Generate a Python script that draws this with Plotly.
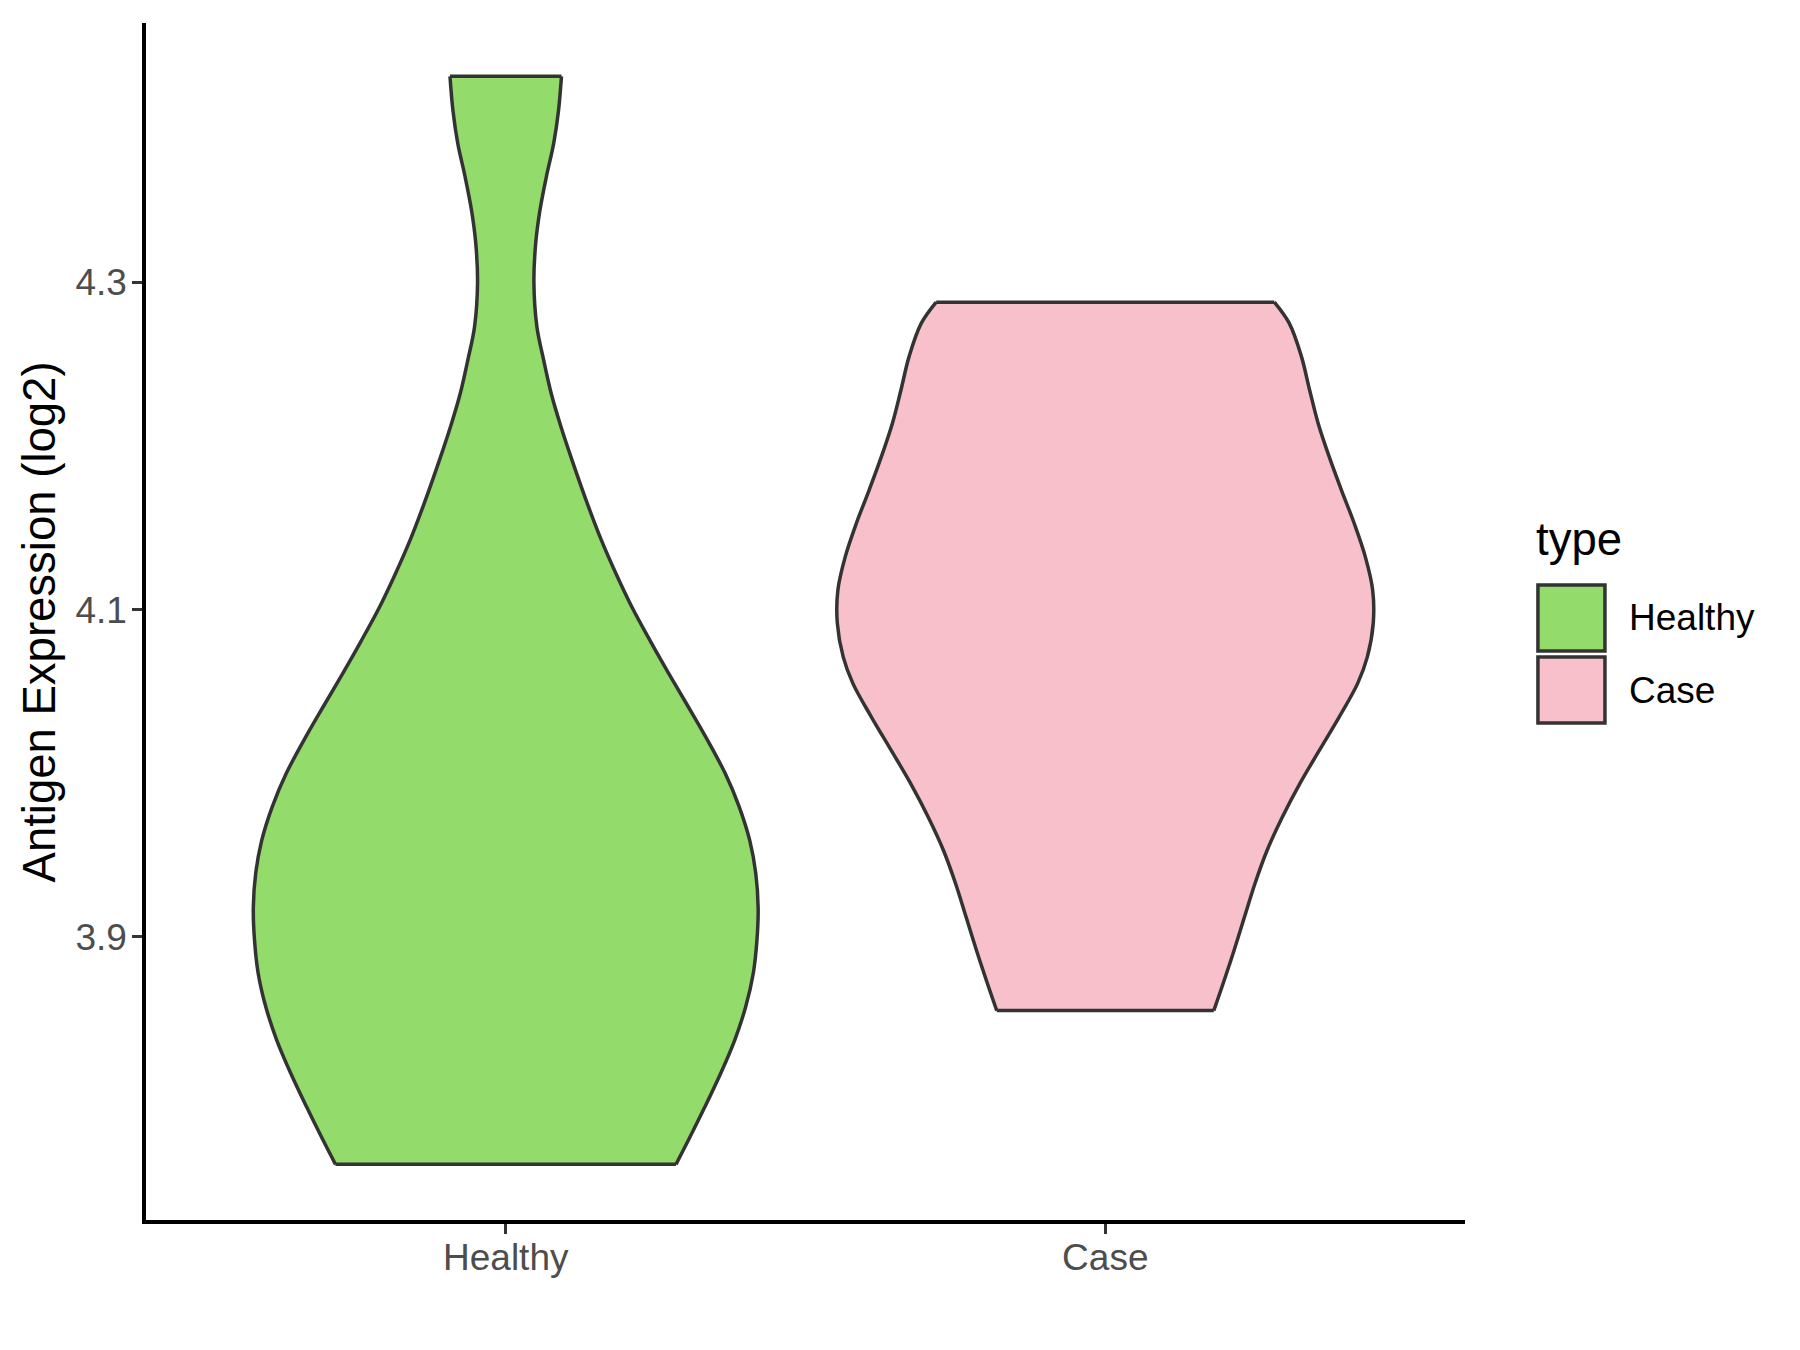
import plotly.graph_objects as go

# Groups and colours
CATEGORIES = ["Healthy", "Case"]
FILL_COLORS = {"Healthy": "#93DB6B", "Case": "#F7C0CB"}
OUTLINE = "#333333"

# Violin outlines: expression value (log2) and half width
# of the violin in category units, from bottom to top
healthy_y = [3.761, 3.776, 3.796, 3.817, 3.837, 3.857, 3.878, 3.898, 3.918,
             3.939, 3.959, 3.980, 4.000, 4.020, 4.041, 4.061, 4.081, 4.102,
             4.122, 4.143, 4.163, 4.191, 4.212, 4.232, 4.253, 4.273, 4.300,
             4.324, 4.344, 4.365, 4.385, 4.405, 4.426]
healthy_width = [0.284, 0.305, 0.332, 0.359, 0.382, 0.400, 0.413, 0.419, 0.421,
                 0.417, 0.407, 0.389, 0.366, 0.337, 0.304, 0.272, 0.241, 0.210,
                 0.184, 0.159, 0.138, 0.111, 0.092, 0.076, 0.063, 0.052, 0.047,
                 0.050, 0.057, 0.068, 0.080, 0.088, 0.093]

case_y = [3.855, 3.872, 3.892, 3.912, 3.933, 3.953, 3.973, 3.994, 4.014,
          4.035, 4.055, 4.071, 4.092, 4.112, 4.132, 4.153, 4.173, 4.194,
          4.214, 4.234, 4.255, 4.275, 4.288]
case_width = [0.181, 0.197, 0.215, 0.232, 0.250, 0.270, 0.295, 0.325, 0.357,
              0.391, 0.421, 0.437, 0.447, 0.446, 0.434, 0.415, 0.394, 0.373,
              0.355, 0.341, 0.327, 0.307, 0.282]

Y_TICKS = [3.9, 4.1, 4.3]
Y_TICK_LABELS = ["3.9", "4.1", "4.3"]

FONT = "Liberation Sans, Arial, sans-serif"
LINE_W = 3.5

profiles = {
    "Healthy": (healthy_y, healthy_width),
    "Case": (case_y, case_width),
}

fig = go.Figure()
for i, cat in enumerate(CATEGORIES):
    ys, ws = profiles[cat]
    side = dict(color=OUTLINE, width=LINE_W, shape="spline", smoothing=1.0)
    # left edge, then right edge filled back to it
    fig.add_trace(go.Scatter(
        x=[i - w for w in ws], y=ys, mode="lines", line=side,
        showlegend=False, hoverinfo="skip",
    ))
    fig.add_trace(go.Scatter(
        x=[i + w for w in ws], y=ys, mode="lines", line=side,
        fill="tonextx", fillcolor=FILL_COLORS[cat],
        showlegend=False, hoverinfo="skip",
    ))
    # trimmed ends: flat edges at the lowest and highest values
    for k in (0, -1):
        fig.add_trace(go.Scatter(
            x=[i - ws[k], i + ws[k]], y=[ys[k], ys[k]], mode="lines",
            line=dict(color=OUTLINE, width=LINE_W),
            showlegend=False, hoverinfo="skip",
        ))

fig.update_layout(
    width=1800, height=1350,
    paper_bgcolor="white", plot_bgcolor="white",
    margin=dict(l=138, r=343, t=15, b=138),
    font=dict(family=FONT, color="#000000"),
    showlegend=False,
)
fig.update_xaxes(
    range=[-0.6, 1.6],
    tickvals=list(range(len(CATEGORIES))),
    ticktext=CATEGORIES,
    showgrid=False, zeroline=False,
    showline=True, linecolor="#000000", linewidth=3.5,
    ticks="outside", ticklen=10, tickwidth=3, tickcolor=OUTLINE,
    tickfont=dict(size=37, color="#4D4D4D", family=FONT),
    ticklabelstandoff=-8,
)
fig.update_yaxes(
    range=[3.727, 4.4586],
    tickvals=Y_TICKS,
    ticktext=Y_TICK_LABELS,
    showgrid=False, zeroline=False,
    showline=True, linecolor="#000000", linewidth=3.5,
    ticks="outside", ticklen=10, tickwidth=3, tickcolor=OUTLINE,
    tickfont=dict(size=37, color="#4D4D4D", family=FONT),
    ticklabelstandoff=-2,
)

# y axis title
fig.add_annotation(
    text="Antigen Expression (log2)",
    xref="paper", yref="paper", x=-0.0804, y=0.5,
    xanchor="center", yanchor="middle", textangle=-90,
    showarrow=False, font=dict(size=45.5, color="#000000", family=FONT),
)

# legend drawn by hand, ggplot style
fig.add_annotation(
    text="type", xref="paper", yref="paper", x=1.0525, y=0.5687,
    xanchor="left", yanchor="middle", showarrow=False,
    font=dict(size=45.5, color="#000000", family=FONT),
)
key_top = 0.5305
key_h = 0.0551
key_step = 0.0602
for i, cat in enumerate(CATEGORIES):
    y1 = key_top - i * key_step
    fig.add_shape(
        type="rect", xref="paper", yref="paper",
        x0=1.0553, x1=1.1061, y0=y1 - key_h, y1=y1,
        fillcolor=FILL_COLORS[cat], line=dict(color=OUTLINE, width=3.5),
    )
    fig.add_annotation(
        text=cat, xref="paper", yref="paper", x=1.1229, y=y1 - key_h / 2,
        xanchor="left", yanchor="middle", showarrow=False,
        font=dict(size=37, color="#000000", family=FONT),
    )

fig.write_html("out.html")
